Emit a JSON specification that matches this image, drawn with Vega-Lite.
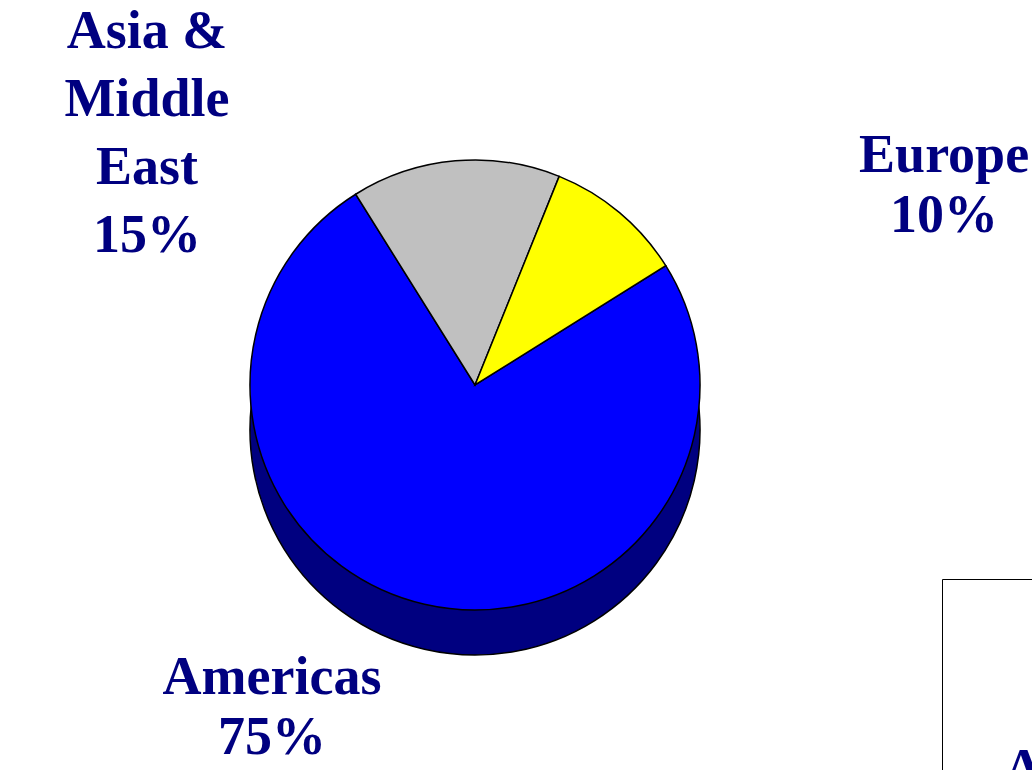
{
  "$schema": "https://vega.github.io/schema/vega-lite/v6.json",
  "width": 950,
  "height": 770,
  "autosize": "none",
  "padding": {"left": 0, "top": 0, "right": 82, "bottom": 0},
  "background": "white",
  "config": {"view": {"stroke": null}},
  "data": {
    "values": [
      {"region": "Americas", "share": 75, "label": "Americas\n75%"},
      {"region": "Asia & Middle East", "share": 15, "label": "Asia &\nMiddle\nEast\n15%"},
      {"region": "Europe", "share": 10, "label": "Europe\n10%"}
    ]
  },
  "encoding": {
    "theta": {"field": "share", "type": "quantitative", "stack": true, "scale": {"range": [1.012, 7.295]}}
  },
  "layer": [
    {
      "mark": {"type": "arc", "outerRadius": 225, "yOffset": 45, "fill": "#000080", "stroke": "black", "strokeWidth": 1.5},
      "encoding": {"detail": {"field": "region"}}
    },
    {
      "mark": {"type": "arc", "outerRadius": 225, "stroke": "black", "strokeWidth": 1.5},
      "encoding": {
        "color": {
          "field": "region",
          "type": "nominal",
          "scale": {"domain": ["Americas", "Asia & Middle East", "Europe"], "range": ["#0000FF", "#C0C0C0", "#FFFF00"]},
          "legend": {
            "orient": "none",
            "legendX": 942,
            "legendY": 579,
            "title": null,
            "strokeColor": "black",
            "fillColor": "white",
            "padding": 20,
            "symbolType": "square",
            "symbolSize": 116964,
            "symbolOpacity": 0,
            "symbolStrokeWidth": 0,
            "labelOffset": -300,
            "labelFont": "Liberation Serif",
            "labelFontSize": 54,
            "labelFontWeight": "bold",
            "labelColor": "#000080",
            "labelLimit": 0,
            "encode": {"legend": {"update": {"strokeWidth": {"value": 2}}}}
          }
        }
      }
    },
    {
      "mark": {"type": "text", "radius": 482, "thetaOffset": -0.661, "font": "Liberation Serif", "fontSize": 54, "fontWeight": "bold", "fill": "#000080", "lineBreak": "\n", "lineHeight": 68, "baseline": "middle", "align": "center"},
      "encoding": {
        "detail": {"field": "region"},
        "text": {"condition": {"test": "datum.region === 'Asia & Middle East'", "field": "label"}, "value": ""}
      }
    },
    {
      "mark": {"type": "text", "radius": 522, "thetaOffset": 0.419, "font": "Liberation Serif", "fontSize": 54, "fontWeight": "bold", "fill": "#000080", "lineBreak": "\n", "lineHeight": 60, "baseline": "middle", "align": "center"},
      "encoding": {
        "detail": {"field": "region"},
        "text": {"condition": {"test": "datum.region === 'Europe'", "field": "label"}, "value": ""}
      }
    },
    {
      "mark": {"type": "text", "radius": 356, "thetaOffset": 0.38, "font": "Liberation Serif", "fontSize": 54, "fontWeight": "bold", "fill": "#000080", "lineBreak": "\n", "lineHeight": 60, "baseline": "middle", "align": "center"},
      "encoding": {
        "detail": {"field": "region"},
        "text": {"condition": {"test": "datum.region === 'Americas'", "field": "label"}, "value": ""}
      }
    }
  ]
}
